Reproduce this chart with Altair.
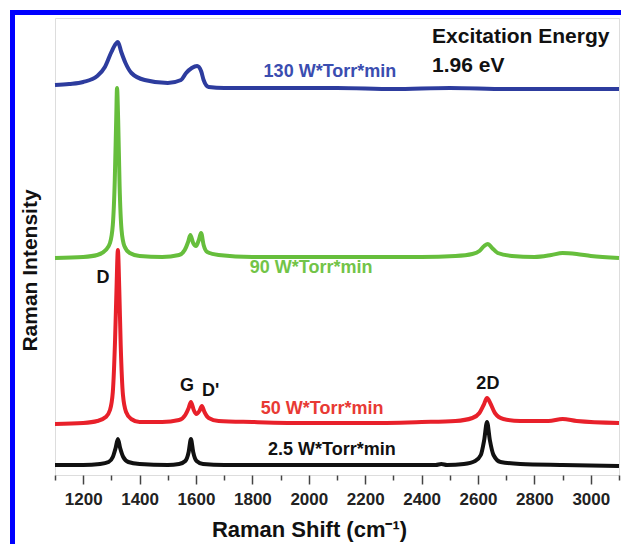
import altair as alt
import pandas as pd

# ---- spectra (Raman shift in cm^-1, intensity in arbitrary units) ----
x_black = [1100, 1200, 1260, 1290, 1305, 1315, 1323, 1331, 1342, 1360, 1400, 1500, 1540, 1562, 1574,
           1582, 1590, 1602, 1625, 1700, 1900, 2100, 2300, 2450, 2470, 2490, 2550, 2590, 2610, 2622,
           2632, 2642, 2655, 2680, 2750, 2900, 3100]
y_black = [10, 10, 11, 13, 18, 27, 36, 27, 18, 13, 11, 10, 11, 14, 23,
           36, 23, 14, 11, 10, 10, 10, 10, 10, 11, 10, 11, 14, 20, 35,
           53, 35, 20, 13, 11, 10, 9]

x_red = [1100, 1200, 1250, 1280, 1295, 1305, 1313, 1318, 1323, 1328, 1333, 1341, 1352, 1370, 1400,
         1480, 1540, 1562, 1574, 1582, 1592, 1601, 1612, 1621, 1630, 1645, 1680, 1800, 2000, 2200,
         2400, 2520, 2580, 2605, 2620, 2632, 2645, 2660, 2690, 2750, 2850, 2900, 2950, 3100]
y_red = [51, 52, 54, 58, 65, 83, 135, 185, 225, 185, 130, 80, 63, 56, 53,
         53, 55, 60, 67, 73, 65, 61, 64, 69, 63, 57, 54, 53, 52, 52,
         53, 54, 57, 62, 70, 77, 71, 62, 56, 54, 54, 56, 54, 52]

x_green = [1100, 1200, 1250, 1280, 1295, 1305, 1312, 1317, 1320, 1324, 1329, 1336, 1346, 1365, 1400,
           1480, 1540, 1560, 1572, 1580, 1590, 1600, 1610, 1618, 1627, 1640, 1680, 1800, 2000, 2200,
           2400, 2520, 2580, 2605, 2622, 2635, 2650, 2670, 2720, 2800, 2860, 2900, 2950, 3000, 3100]
y_green = [217, 218, 220, 225, 232, 250, 295, 355, 387, 355, 290, 245, 229, 222, 219,
           218, 220, 225, 233, 240, 232, 229, 235, 242, 230, 223, 220, 218, 218, 218,
           218, 219, 221, 224, 229, 231, 227, 222, 219, 218, 220, 222, 221, 219, 217]

x_blue = [1100, 1150, 1200, 1250, 1277, 1300, 1315, 1323, 1335, 1350, 1371, 1418, 1500, 1547,
          1565, 1585, 1604, 1618, 1627, 1645, 1700, 1900, 2100, 2300, 2500, 2700, 2900, 3100]
y_blue = [390, 391, 393, 399, 408, 423, 431, 433, 423, 412, 402, 395, 392, 395,
          402, 407, 409, 404, 395, 388, 387, 387, 387, 386, 387, 386, 386, 386]

series_names = ["130 W*Torr*min", "90 W*Torr*min", "50 W*Torr*min", "2.5 W*Torr*min"]
line_colors = ["#2D3C9E", "#66BE3C", "#E8202A", "#111111"]
label_colors = ["#3A4DB0", "#72C448", "#E83A34", "#111111"]

# label positions (data coordinates)
series_label_x = [2075, 2008, 2047, 2082]
series_label_y = [403, 207, 66, 25]

peak_labels = ["D", "G", "D'", "2D"]
peak_label_x = [1270, 1568, 1652, 2635]
peak_label_y = [197, 89, 84, 91]

note_labels = ["Excitation Energy", "1.96 eV"]
note_x = [2437, 2437]
note_y = [438, 409]

major_ticks = [1200, 1400, 1600, 1800, 2000, 2200, 2400, 2600, 2800, 3000]
minor_ticks = [1100, 1300, 1500, 1700, 1900, 2100, 2300, 2500, 2700, 2900, 3100]

# ---- tables ----
rows = []
for name, xs, ys in zip(series_names, [x_blue, x_green, x_red, x_black], [y_blue, y_green, y_red, y_black]):
    for xv, yv in zip(xs, ys):
        rows.append({"series": name, "shift": xv, "intensity": yv})
df = pd.DataFrame(rows)

df_series_lab = pd.DataFrame({"shift": series_label_x, "intensity": series_label_y,
                              "text": series_names, "tcolor": label_colors})
df_peak = pd.DataFrame({"shift": peak_label_x, "intensity": peak_label_y, "text": peak_labels})
df_note = pd.DataFrame({"shift": note_x, "intensity": note_y, "text": note_labels})
df_minor = pd.DataFrame({"shift": minor_ticks, "intensity": [0] * len(minor_ticks)})

FONT = "Liberation Sans"
xscale = alt.Scale(domain=[1100, 3100], nice=False, zero=False)
yscale = alt.Scale(domain=[0, 457], nice=False, zero=False)

X = alt.X("shift:Q", scale=xscale,
          axis=alt.Axis(values=major_ticks, orient="bottom", format="d",
                        title="Raman Shift (cm⁻¹)", grid=False,
                        tickSize=9, tickWidth=1.5, tickColor="#444", domain=False,
                        labelFontSize=17, labelFontWeight="bold", labelColor="#222",
                        labelPadding=7, labelFont=FONT,
                        titleFontSize=22, titleFontWeight="bold", titleFont=FONT, titleColor="#111",
                        titleX=254, titleY=54, titleBaseline="middle", titleAlign="center"))
X_plain = alt.X("shift:Q", scale=xscale, axis=None)
Y = alt.Y("intensity:Q", scale=yscale,
          axis=alt.Axis(title="Raman Intensity", labels=False, ticks=False, domain=False, grid=False,
                        titleFontSize=21, titleFontWeight="bold", titleFont=FONT, titleColor="#111",
                        titleAngle=-90, titleX=-25, titleY=252, titleBaseline="middle",
                        titleAlign="center"))

lines = alt.Chart(df).mark_line(strokeWidth=4, interpolate="monotone").encode(
    x=X, y=Y,
    color=alt.Color("series:N", scale=alt.Scale(domain=series_names, range=line_colors), legend=None),
)

series_text = alt.Chart(df_series_lab).mark_text(
    font=FONT, fontSize=18, fontWeight="bold", align="center", baseline="middle"
).encode(x=X_plain, y=Y, text="text:N", color=alt.Color("tcolor:N", scale=None))

peak_text = alt.Chart(df_peak).mark_text(
    font=FONT, fontSize=18, fontWeight="bold", align="center", baseline="middle", color="#111"
).encode(x=X_plain, y=Y, text="text:N")

note_text = alt.Chart(df_note).mark_text(
    font=FONT, fontSize=21, fontWeight="bold", align="left", baseline="middle", color="#111"
).encode(x=X_plain, y=Y, text="text:N")

minor = alt.Chart(df_minor).mark_point(opacity=0).encode(
    x=alt.X("shift:Q", scale=xscale,
            axis=alt.Axis(values=minor_ticks, labels=False, tickSize=5, tickWidth=1.5, tickColor="#444",
                          domain=False, grid=False, orient="bottom", title="")),
    y=Y,
)

border_left = alt.Chart(pd.DataFrame({"a": [0]})).mark_rule(color="#0000FF", strokeWidth=5).encode(
    x=alt.value(-42.5), y=alt.value(-8), y2=alt.value(526))
border_top = alt.Chart(pd.DataFrame({"a": [0]})).mark_rule(color="#0000FF", strokeWidth=5).encode(
    y=alt.value(-5.5), x=alt.value(-45), x2=alt.value(566))

chart = alt.layer(lines, series_text, peak_text, note_text, minor, border_left, border_top).resolve_axis(
    x="independent"
).properties(
    width=564, height=457,
    autosize=alt.AutoSizeParams(type="none"),
    padding={"left": 55, "top": 18, "right": 2, "bottom": 69},
).configure_view(
    stroke="#555", strokeWidth=1.5
).configure(background="white")

chart.save("out.html", embed_options={"renderer": "svg", "actions": False})
